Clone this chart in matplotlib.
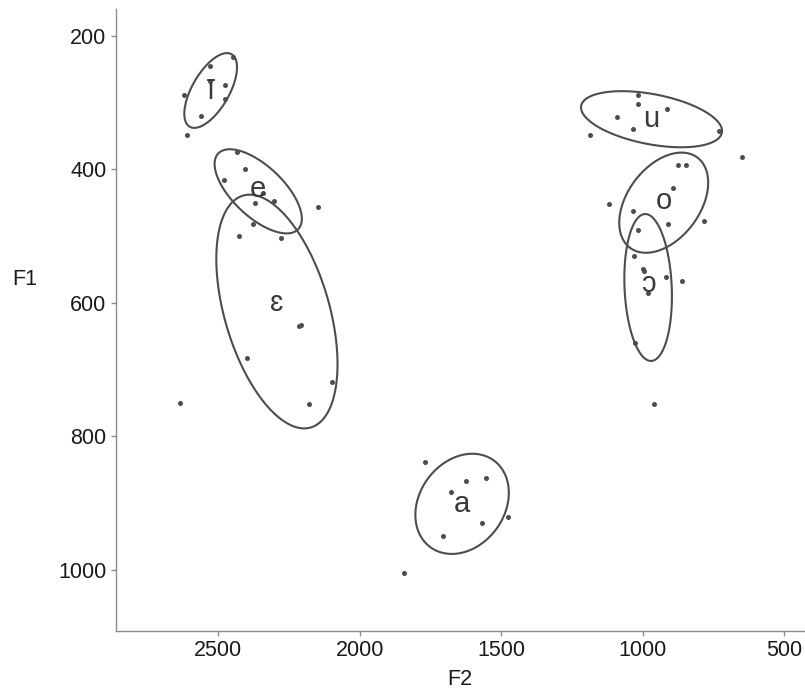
import numpy as np
import matplotlib
matplotlib.use("Agg")
import matplotlib.pyplot as plt
from matplotlib.patches import Polygon

plt.rcParams["font.family"] = ["Liberation Sans", "DejaVu Sans"]

# token measurements (F2, F1 in Hz) and vowel of each token
vowel = (["ī"] * 8 + ["e"] * 8 + ["ɛ"] * 8 + ["u"] * 8
         + ["o"] * 8 + ["ɔ"] * 8 + ["a"] * 8)
f2 = [2448, 2530, 2527, 2477, 2619, 2474, 2559, 2609,
      2433, 2405, 2479, 2342, 2369, 2301, 2147, 2375,
      2427, 2278, 2208, 2214, 2398, 2097, 2180, 2633,
      1018, 1017, 916, 1091, 1036, 1185, 730, 650,
      875, 846, 893, 1119, 1036, 912, 785, 1018,
      1032, 1000, 994, 917, 863, 982, 1027, 959,
      1769, 1552, 1623, 1677, 1567, 1477, 1706, 1842]
f1 = [232, 246, 268, 274, 289, 294, 320, 348,
      374, 399, 416, 436, 451, 448, 457, 482,
      500, 503, 633, 635, 683, 718, 751, 750,
      289, 302, 310, 322, 340, 349, 342, 381,
      394, 393, 428, 452, 463, 482, 478, 491,
      530, 549, 553, 561, 568, 585, 660, 752,
      839, 862, 867, 883, 929, 921, 949, 1005]

# ellipse summaries per vowel: centre, half-extent on each axis, correlation
ell_vowel = ["ī", "e", "ɛ", "u", "o", "ɔ", "a"]
ell_f2 = [2526, 2358, 2292, 969, 926, 981, 1638]
ell_f1 = [282, 433, 613, 325, 450, 577, 901]
ell_w = [93, 154, 214, 249, 157, 84, 165]
ell_h = [56, 63, 175, 42, 75, 110, 75]
ell_rho = [0.62, -0.65, -0.45, -0.42, 0.40, -0.12, 0.22]

# label positions (mostly the ellipse centres)
lab_f2 = [2526, 2358, 2292, 969, 926, 981, 1638]
lab_f1 = [282, 430, 600, 325, 448, 572, 901]

x_ticks = [2500, 2000, 1500, 1000, 500]
y_ticks = [200, 400, 600, 800, 1000]

dark = "#4d4d4d"
spine_col = "#8c8c8c"

fig = plt.figure(figsize=(8.05, 6.95), dpi=100)
ax = fig.add_axes([0.1435, 0.0925, 0.8565, 0.8945])

ax.scatter(f2, f1, s=13, color=dark, linewidths=0, zorder=3)

t = np.linspace(0, 2 * np.pi, 300, endpoint=False)
for cx, cy, w, h, r in zip(ell_f2, ell_f1, ell_w, ell_h, ell_rho):
    phi = np.arccos(r)
    pts = np.column_stack([cx + w * np.cos(t), cy + h * np.cos(t - phi)])
    ax.add_patch(Polygon(pts, closed=True, fill=False, edgecolor=dark,
                         linewidth=1.5, zorder=2))

for v, x, y in zip(ell_vowel, lab_f2, lab_f1):
    ax.text(x, y, v, ha="center", va="center", fontsize=21,
            color="#3a3a3a", zorder=4)

ax.set_xlim(2862, 427)
ax.set_ylim(1091, 160)
ax.set_xticks(x_ticks)
ax.set_yticks(y_ticks)

for side in ["top", "right"]:
    ax.spines[side].set_visible(False)
for side in ["left", "bottom"]:
    ax.spines[side].set_color(spine_col)
    ax.spines[side].set_linewidth(1.0)

ax.tick_params(colors=spine_col, labelcolor="#1a1a1a", labelsize=15.5,
               length=3.5, width=1.0, pad=3)

ax.set_xlabel("F2", fontsize=15.5, color="#1a1a1a", labelpad=6)
ax.set_ylabel("F1", fontsize=15.5, color="#1a1a1a", rotation=0)
ax.yaxis.set_label_coords(-0.132, 0.548)

fig.savefig("out.png", dpi=100)
